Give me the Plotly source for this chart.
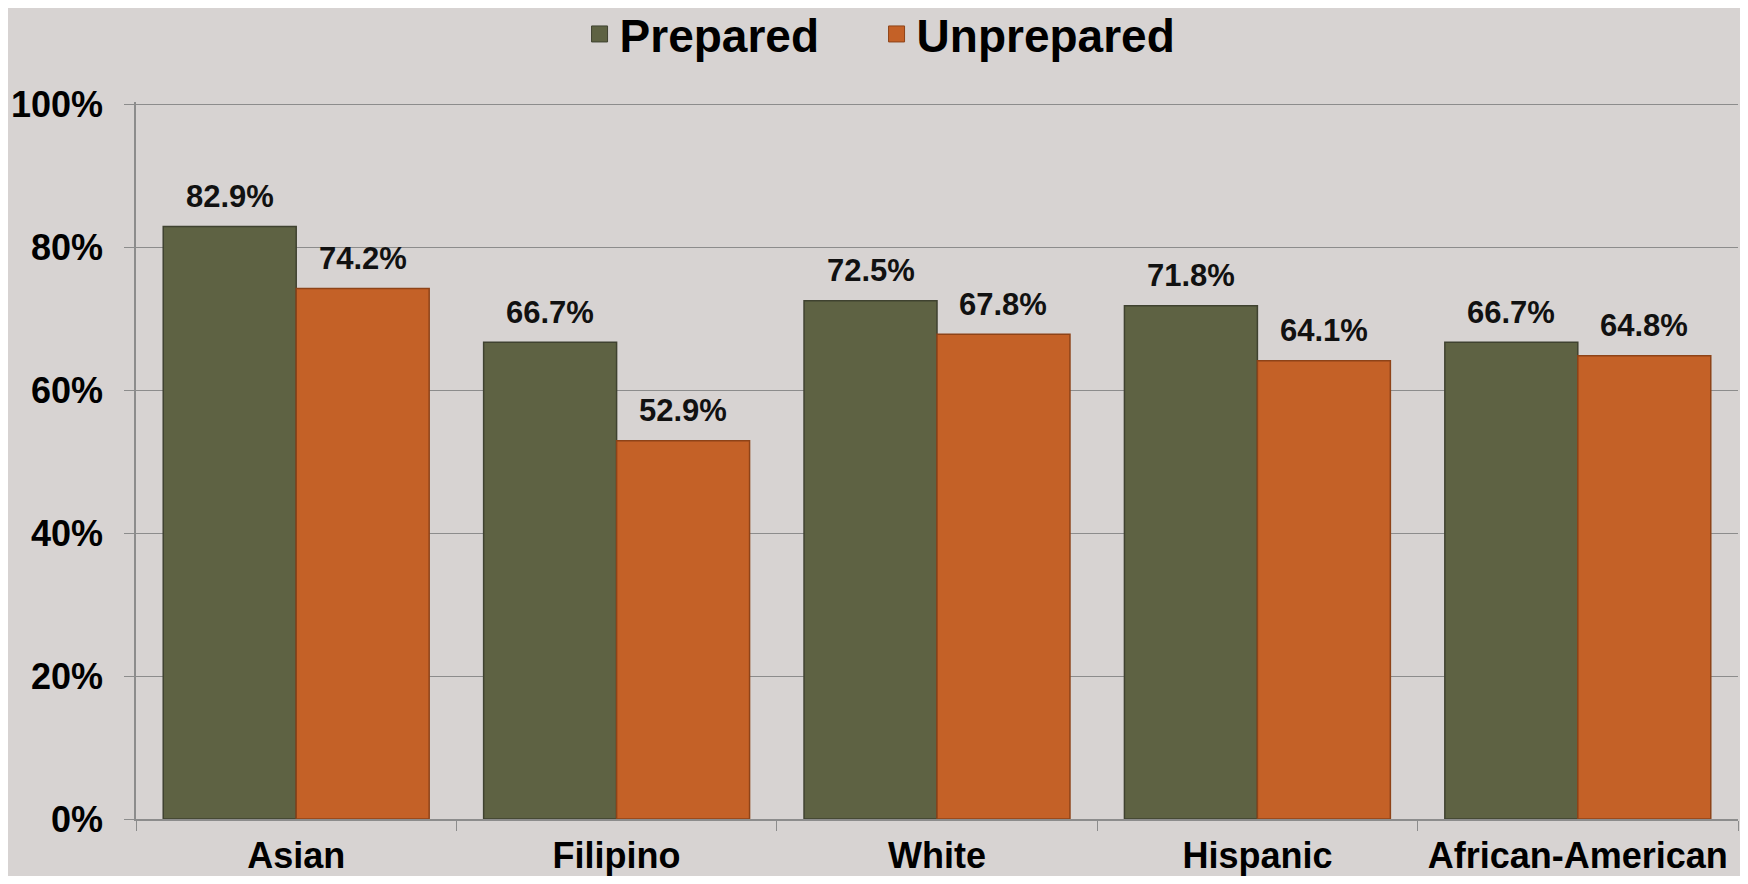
import plotly.graph_objects as go

# data
groups = ["Asian", "Filipino", "White", "Hispanic", "African-American"]
prepared = [0.829, 0.667, 0.725, 0.718, 0.667]
unprepared = [0.742, 0.529, 0.678, 0.641, 0.648]
ytick_vals = [0, 0.2, 0.4, 0.6, 0.8, 1.0]
ytick_text = ["0%", "20%", "40%", "60%", "80%", "100%"]

BG = "#D7D3D2"
OLIVE = "#5E6243"
ORANGE = "#C46127"
GRID = "#8C8C8C"
BARGAP = 0.17
FONT = "Liberation Sans, Arial"

fig = go.Figure()
fig.add_trace(go.Bar(
    x=groups, y=prepared, name="Prepared", showlegend=False,
    marker=dict(color=OLIVE, line=dict(color="#3F4230", width=1.5)),
))
fig.add_trace(go.Bar(
    x=groups, y=unprepared, name="Unprepared", showlegend=False,
    marker=dict(color=ORANGE, line=dict(color="#8E4318", width=1.5)),
))

# legend entries with bigger square swatches
fig.add_trace(go.Scatter(
    x=[None], y=[None], mode="markers", name="Prepared",
    marker=dict(symbol="square", size=22, color=OLIVE, line=dict(color="#3F4230", width=1)),
))
fig.add_trace(go.Scatter(
    x=[None], y=[None], mode="markers", name="Unprepared",
    marker=dict(symbol="square", size=22, color=ORANGE, line=dict(color="#8E4318", width=1)),
))

# value labels above each bar
half = (1 - BARGAP) / 4
for i, (p, u) in enumerate(zip(prepared, unprepared)):
    for xo, v in ((i - half, p), (i + half, u)):
        fig.add_annotation(
            x=xo, y=v, text=f"{v * 100:.1f}%", showarrow=False,
            yanchor="middle", yshift=30,
            font=dict(family=FONT, size=31, color="#111111", weight="bold"),
        )

fig.update_layout(
    width=1732, height=868,
    paper_bgcolor=BG, plot_bgcolor=BG,
    barmode="group", bargap=BARGAP, bargroupgap=0,
    margin=dict(l=128, r=2, t=94, b=57),
    font=dict(family=FONT, color="#000000"),
    legend=dict(
        orientation="h", xref="container", x=0.33, xanchor="left",
        yref="container", y=0.97, yanchor="middle",
        font=dict(size=46, weight="bold"), entrywidth=252,
        bgcolor="rgba(0,0,0,0)", traceorder="normal",
    ),
)
fig.update_yaxes(
    range=[0, 1.003], tickvals=ytick_vals, ticktext=ytick_text,
    showgrid=True, gridcolor=GRID, gridwidth=1,
    showline=True, linecolor=GRID, linewidth=1.5,
    ticks="outside", ticklen=10, tickcolor=GRID,
    tickfont=dict(size=36, weight="bold"), ticklabelstandoff=14,
    zeroline=False, automargin=False,
)
fig.update_xaxes(
    showline=True, linecolor=GRID, linewidth=1.5,
    ticks="outside", ticklen=10, tickcolor=GRID, tickson="boundaries",
    tickfont=dict(size=36, weight="bold"), ticklabelstandoff=4,
    showgrid=False, automargin=False,
)

fig.write_html("out.html")
